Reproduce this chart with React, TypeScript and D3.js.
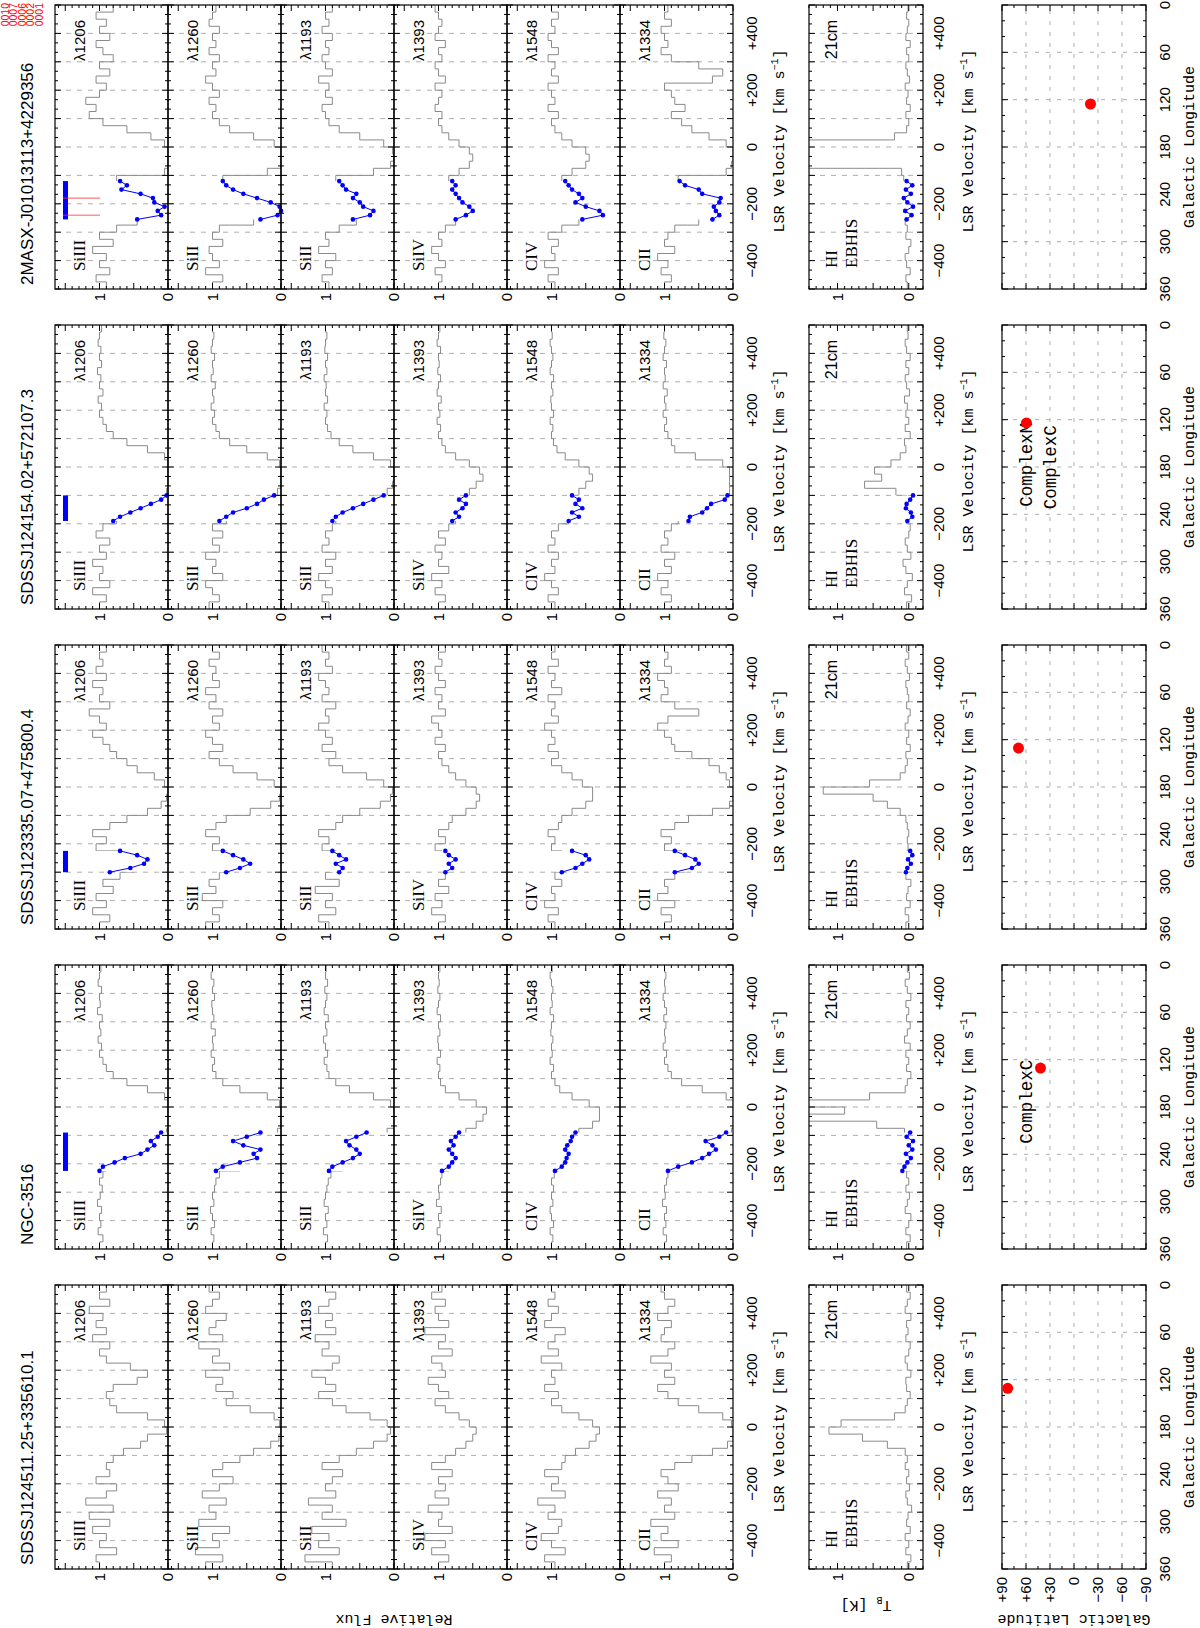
import React, { useEffect, useRef } from 'react';
import * as d3 from 'd3';

// sightlines, left to right in the landscape figure (the page shows it turned by -90 deg)
const titles = [
  'SDSSJ124511.25+335610.1',
  'NGC-3516',
  'SDSSJ123335.07+475800.4',
  'SDSSJ124154.02+572107.3',
  '2MASX-J01013113+4229356',
];
const ionNames = ['SiIII', 'SiII', 'SiII', 'SiIV', 'CIV', 'CII'];
const lineNames = ['λ1206', 'λ1260', 'λ1193', 'λ1393', 'λ1548', 'λ1334'];
const velTickValues = [-400, -200, 0, 200, 400];
const velTickLabels = ['−400', '−200', '0', '+200', '+400'];
const lonTickValues = [360, 300, 240, 180, 120, 60, 0];
const latTickValues = [90, 60, 30, 0, -30, -60, -90];
const latTickLabels = ['+90', '+60', '+30', '0', '−30', '−60', '−90'];
const stampLines = ['0010', '0007', '0006', '0002', '0001'];

// binned spectra: 25 km/s bins starting at -500 km/s
const binStart = -500;
const binWidth = 25;

// SDSSJ124511.25+335610.1
const s1_1206 = [1.0,1.05,0.75,1.0,0.9,1.1,0.85,1.15,0.8,1.2, 0.9,0.75,1.05,0.85,0.9,0.8,0.65,0.4,0.3,0.02, 0.05,0.3,0.75,0.85,0.9,0.8,0.45,0.3,0.55,0.9, 1.0,0.85,1.1,0.9,1.05,0.95,1.15,0.85,1.0,0.9];
const s1_1260 = [1.1,0.85,1.25,0.9,1.0,0.75,1.2,0.95,1.05,0.8, 1.15,0.9,0.7,1.0,0.85,0.6,0.4,0.15,0.03,0.0, 0.02,0.1,0.45,0.8,0.7,0.95,0.85,1.1,0.75,1.0, 0.9,1.2,0.85,1.05,0.95,0.8,1.1,1.0,0.9,1.05];
const s1_1193 = [0.9,1.3,0.8,1.1,0.95,1.2,0.7,1.05,0.9,1.25, 0.85,1.0,0.9,0.75,1.05,0.8,0.55,0.3,0.1,0.05, 0.1,0.35,0.7,0.9,1.1,0.85,1.0,1.2,0.9,0.8, 1.05,0.95,1.15,0.85,1.0,0.9,1.1,0.95,0.85,1.0];
const s1_1393 = [1.0,0.85,1.1,0.9,1.2,0.8,1.0,0.95,1.15,0.85, 1.05,0.9,1.0,0.8,1.1,0.9,0.75,0.6,0.5,0.45, 0.55,0.7,0.9,1.05,0.85,1.0,1.15,0.9,0.95,1.1, 0.8,1.0,0.9,1.2,0.85,1.0,1.05,0.9,1.1,0.95];
const s1_1548 = [0.95,1.1,0.8,1.0,1.15,0.9,0.85,1.05,0.95,1.2, 0.8,1.0,0.9,1.1,0.85,0.8,0.65,0.45,0.35,0.3, 0.4,0.6,0.85,1.0,0.9,1.1,0.95,1.0,0.85,1.15, 0.9,1.05,0.95,0.8,1.1,1.0,0.9,1.05,0.95,1.0];
const s1_1334 = [1.0,0.9,1.15,0.8,1.05,0.95,1.2,0.85,1.0,0.9, 1.1,0.8,0.95,1.05,0.85,0.6,0.3,0.08,0.0,0.0, 0.02,0.15,0.5,0.8,0.95,1.1,0.85,1.0,0.9,1.2, 0.95,0.85,1.05,1.0,0.9,1.1,0.95,0.85,1.0,1.05];

// NGC-3516
const s2_1206 = [1.0,0.95,1.02,0.98,1.0,0.97,1.03,0.99,0.96,1.0, 0.95,0.9,0.7,0.4,0.25,0.15,0.02,0.0,0.0,0.0, 0.0,0.05,0.3,0.6,0.8,0.9,0.95,1.0,0.97,1.02, 0.98,1.0,0.96,1.03,0.99,1.0,0.97,1.02,1.0,0.98];
const s2_1260 = [1.0,0.98,1.02,0.97,1.0,1.03,0.98,1.0,0.97,0.95, 0.9,0.6,0.35,0.5,0.7,0.4,0.05,0.0,0.0,0.0, 0.02,0.2,0.6,0.85,0.95,1.0,0.97,1.02,0.99,1.0, 0.96,1.02,0.98,1.0,1.01,0.97,1.0,0.98,1.02,1.0];
const s2_1193 = [1.0,0.97,1.03,0.98,1.0,0.96,1.02,1.0,0.98,0.96, 0.92,0.75,0.55,0.6,0.7,0.45,0.1,0.0,0.0,0.0, 0.05,0.3,0.65,0.85,0.95,0.98,1.02,0.97,1.0,1.03, 0.98,1.0,0.96,1.02,1.0,0.98,1.01,0.97,1.0,0.99];
const s2_1393 = [1.0,0.97,1.02,0.98,1.0,0.96,1.03,0.99,1.0,0.97, 0.95,0.85,0.8,0.82,0.85,0.8,0.6,0.45,0.35,0.3, 0.45,0.7,0.9,0.97,1.0,0.98,1.02,0.97,1.0,1.01, 0.98,1.0,0.97,1.02,1.0,0.98,1.01,0.99,1.0,0.98];
const s2_1548 = [1.0,0.98,1.02,0.97,1.0,1.02,0.98,1.0,0.97,1.0, 0.96,0.9,0.8,0.78,0.8,0.75,0.6,0.4,0.3,0.3, 0.45,0.7,0.88,0.95,1.0,0.97,1.02,0.99,1.0,0.98, 1.01,1.0,0.97,1.02,0.99,1.0,0.98,1.0,1.02,0.99];
const s2_1334 = [1.0,0.97,1.02,0.98,1.0,0.97,1.03,0.99,1.0,0.97, 0.95,0.8,0.55,0.3,0.35,0.25,0.02,0.0,0.0,0.0, 0.0,0.1,0.45,0.75,0.9,0.95,1.0,0.97,1.02,0.99, 1.0,0.98,1.01,0.97,1.0,1.02,0.99,1.0,0.98,1.0];

// SDSSJ123335.07+475800.4
const s3_1206 = [1.0,0.85,1.1,0.9,1.05,0.8,0.95,0.7,0.5,0.35, 0.7,1.05,0.9,1.1,0.85,0.6,0.3,0.1,0.02,0.0, 0.05,0.2,0.45,0.6,0.75,0.85,0.95,1.1,0.9,1.0, 1.15,0.85,1.0,0.95,1.1,0.9,1.05,0.95,1.0,0.9];
const s3_1260 = [1.1,0.9,1.0,0.85,1.15,0.95,1.05,0.9,0.75,0.55, 0.8,1.0,0.9,1.1,0.95,0.8,0.45,0.15,0.02,0.0, 0.1,0.35,0.7,0.9,1.05,0.85,1.0,1.1,0.9,1.0, 0.85,1.05,0.95,1.1,0.9,1.0,0.95,1.05,0.9,1.0];
const s3_1193 = [0.95,1.1,0.85,1.0,0.9,1.15,0.8,1.0,0.9,0.75, 0.85,1.05,0.95,1.1,0.85,0.75,0.5,0.2,0.05,0.02, 0.15,0.4,0.75,0.95,0.85,1.05,0.9,1.0,1.1,0.95, 1.0,0.85,1.05,0.95,1.0,1.1,0.9,1.0,0.95,1.05];
const s3_1393 = [1.0,0.9,1.1,0.95,1.05,0.85,1.0,0.9,0.85,0.9, 0.95,1.05,0.9,1.0,0.85,0.8,0.6,0.45,0.4,0.45, 0.6,0.75,0.85,0.95,1.0,0.9,1.05,0.95,1.0,1.1, 0.9,1.0,0.95,1.05,0.9,1.0,1.05,0.95,1.0,0.9];
const s3_1548 = [0.95,1.05,0.9,1.1,0.95,1.0,0.85,0.95,0.8,0.7, 0.85,1.0,0.95,1.05,0.9,0.85,0.7,0.5,0.4,0.4, 0.55,0.7,0.85,1.0,0.9,1.05,0.95,1.0,1.1,0.9, 1.0,0.95,1.05,0.85,1.0,0.95,1.05,0.9,1.0,0.95];
const s3_1334 = [1.0,0.9,1.05,0.85,1.1,0.95,1.0,0.85,0.7,0.5, 0.75,1.0,0.9,1.05,0.85,0.65,0.3,0.05,0.0,0.0, 0.05,0.1,0.2,0.35,0.6,0.85,0.9,1.0,1.1,0.95, 0.5,0.85,1.05,0.95,1.0,1.1,0.9,1.0,0.95,1.0];

// SDSSJ124154.02+572107.3
const s4_1206 = [1.0,0.9,1.1,0.85,1.0,0.95,1.1,0.9,1.0,0.85, 1.05,0.95,0.75,0.5,0.3,0.1,0.02,0.0,0.0,0.0, 0.0,0.05,0.3,0.6,0.8,0.9,0.95,1.0,0.97,1.02, 0.95,1.0,0.98,1.03,0.97,1.0,0.98,1.02,1.0,0.97];
const s4_1260 = [1.05,0.9,1.0,1.1,0.85,1.0,0.95,1.1,0.9,1.0, 0.85,1.0,0.8,0.6,0.4,0.2,0.05,0.0,0.0,0.0, 0.02,0.2,0.5,0.75,0.9,0.95,1.0,0.97,1.02,0.98, 1.0,0.96,1.02,0.99,1.0,0.97,1.02,1.0,0.98,1.0];
const s4_1193 = [0.95,1.05,0.9,1.0,1.1,0.9,1.0,0.85,1.05,0.95, 1.0,0.9,0.85,0.7,0.5,0.3,0.1,0.02,0.0,0.0, 0.05,0.3,0.6,0.8,0.92,0.97,1.0,0.98,1.02,0.97, 1.0,0.99,1.02,0.98,1.0,0.97,1.01,1.0,0.98,1.0];
const s4_1393 = [1.0,0.9,1.05,0.95,1.1,0.85,1.0,0.95,1.05,0.9, 1.0,0.85,0.75,0.7,0.65,0.6,0.55,0.45,0.35,0.4, 0.55,0.75,0.9,0.95,1.0,0.97,1.02,0.98,1.0,0.96, 1.02,1.0,0.97,1.01,0.99,1.0,0.97,1.02,1.0,0.98];
const s4_1548 = [0.95,1.05,0.9,1.0,1.1,0.95,1.0,0.9,1.05,0.95, 1.0,0.9,0.75,0.7,0.6,0.65,0.6,0.5,0.4,0.45, 0.6,0.8,0.92,0.97,1.0,0.98,1.02,0.97,1.0,1.01, 0.98,1.0,0.97,1.02,1.0,0.98,1.0,1.02,0.99,1.0];
const s4_1334 = [1.0,0.9,1.05,0.95,1.1,0.9,1.0,0.85,1.05,0.95, 1.0,0.9,0.8,0.6,0.45,0.2,0.05,0.05,0.05,0.05, 0.15,0.55,0.85,0.9,0.95,1.0,0.97,1.02,0.98,1.0, 0.96,1.02,0.99,1.0,0.97,1.02,1.0,0.98,1.01,1.0];

// 2MASX-J01013113+4229356
const s5_1206 = [0.9,1.05,0.85,1.0,0.9,1.1,0.8,1.0,0.75,0.45, 0.1,0.15,0.3,0.55,0.6,0.75,0.05,0.0,0.0,0.0, 0.05,0.25,0.6,0.95,1.15,1.05,1.2,1.0,0.9,1.05, 0.85,1.0,0.8,0.95,1.05,0.85,1.0,0.9,1.05,0.8];
const s5_1260 = [1.0,0.85,1.1,0.9,1.0,1.05,0.85,1.0,0.9,0.4, 0.05,0.0,0.2,0.5,0.75,0.85,0.2,0.0,0.0,0.0, 0.1,0.4,0.75,0.9,1.0,0.95,1.05,0.9,1.0,1.1, 0.95,1.0,0.9,1.05,0.95,1.0,0.9,1.05,1.0,0.95];
const s5_1193 = [0.95,1.05,0.9,1.0,0.85,1.1,0.95,1.0,0.8,0.55, 0.3,0.35,0.45,0.55,0.75,0.85,0.3,0.05,0.0,0.02, 0.15,0.5,0.8,0.95,1.0,1.05,0.9,1.0,0.95,1.1, 0.9,1.0,1.05,0.95,1.0,0.9,1.05,0.95,1.0,0.9];
const s5_1393 = [1.0,0.95,1.05,0.9,1.0,1.1,0.95,1.0,0.9,0.75, 0.6,0.55,0.6,0.7,0.8,0.85,0.7,0.55,0.5,0.55, 0.7,0.85,0.95,1.0,0.95,1.05,1.0,0.95,1.05,0.9, 1.0,1.05,0.95,1.0,0.9,1.05,1.0,0.95,1.0,1.05];
const s5_1548 = [0.95,1.05,0.9,1.1,0.95,1.0,0.9,1.05,0.85,0.6, 0.3,0.45,0.55,0.6,0.75,0.85,0.7,0.5,0.45,0.5, 0.7,0.85,0.95,1.0,0.9,1.05,0.95,1.0,1.05,0.9, 1.0,0.95,1.05,0.9,1.0,1.05,0.95,1.0,0.9,1.0];
const s5_1334 = [1.0,0.9,1.05,0.95,1.1,0.85,1.0,0.95,0.85,0.5, 0.2,0.25,0.2,0.45,0.55,0.8,0.1,0.02,0.0,0.0, 0.1,0.35,0.6,0.75,0.9,0.7,0.85,0.9,1.0,0.3, 0.15,0.5,0.9,1.05,0.95,1.0,1.05,0.9,1.0,0.95];

// high-velocity absorption: points every 15 km/s from hvcStart
const hvcStart = [null, -225, -300, -190, -255];
const hvcStep = 15;
const b2_1206 = [1.0,0.95,0.78,0.63,0.4,0.3,0.2,0.25,0.15,0.1];
const b2_1260 = [0.95,0.85,0.6,0.35,0.4,0.3,0.55,0.7,0.5,0.3];
const b2_1193 = [0.95,0.9,0.75,0.6,0.5,0.55,0.65,0.7,0.55,0.4];
const b2_1393 = [0.95,0.85,0.8,0.75,0.8,0.85,0.78,0.82,0.75,0.7];
const b2_1548 = [0.95,0.85,0.8,0.78,0.75,0.8,0.77,0.72,0.7,0.65];
const b2_1334 = [0.95,0.8,0.6,0.45,0.35,0.25,0.3,0.4,0.2,0.1];
const b3_1206 = [0.85,0.55,0.35,0.3,0.45,0.7];
const b3_1260 = [0.8,0.6,0.45,0.55,0.7,0.85];
const b3_1193 = [0.8,0.75,0.85,0.7,0.8,0.9];
const b3_1393 = [0.9,0.8,0.85,0.75,0.85,0.9];
const b3_1548 = [0.85,0.65,0.55,0.45,0.5,0.7];
const b3_1334 = [0.85,0.6,0.5,0.55,0.7,0.85];
const b4_1206 = [0.8,0.7,0.55,0.4,0.25,0.1,0.02];
const b4_1260 = [0.9,0.8,0.7,0.5,0.35,0.25,0.1];
const b4_1193 = [0.9,0.85,0.75,0.6,0.45,0.3,0.15];
const b4_1393 = [0.8,0.7,0.75,0.65,0.6,0.7,0.6];
const b4_1548 = [0.75,0.6,0.7,0.55,0.65,0.6,0.7];
const b4_1334 = [0.65,0.63,0.45,0.38,0.32,0.12,0.08];
const b5_1206 = [0.45,0.1,0.15,0.05,0.2,0.22,0.4,0.68,0.6,0.7];
const b5_1260 = [0.3,0.05,0.0,0.02,0.15,0.35,0.55,0.7,0.8,0.85];
const b5_1193 = [0.6,0.35,0.3,0.45,0.5,0.6,0.55,0.7,0.75,0.8];
const b5_1393 = [0.75,0.6,0.5,0.55,0.65,0.7,0.75,0.8,0.75,0.8];
const b5_1548 = [0.55,0.25,0.3,0.5,0.65,0.55,0.6,0.7,0.75,0.8];
const b5_1334 = [0.3,0.2,0.25,0.28,0.2,0.18,0.45,0.5,0.7,0.78];

// HI 21cm (EBHIS) brightness temperature, same 25 km/s bins
const hi1 = [0.02,-0.03,0.04,0.0,0.05,-0.02,0.03,0.01,-0.04,0.02, 0.04,-0.01,0.03,0.0,0.05,0.02,0.05,0.3,0.65,1.12, 0.95,0.2,0.05,0.02,-0.02,0.03,0.04,-0.03,0.02,0.05, 0.0,-0.02,0.04,0.01,0.03,-0.03,0.05,0.02,-0.02,0.03];
const hi2 = [0.03,-0.02,0.04,0.0,-0.03,0.05,0.02,-0.01,0.04,0.0, 0.03,-0.02,0.05,0.04,0.06,0.05,0.06,0.45,1.6,0.9, 1.6,0.55,0.05,0.02,-0.03,0.03,0.0,0.04,-0.02,0.06, 0.02,-0.02,0.03,0.0,0.04,-0.03,0.02,0.05,-0.01,0.02];
const hi3 = [0.04,0.0,0.05,-0.02,0.03,0.01,-0.03,0.04,0.02,0.0, 0.03,0.01,0.02,0.0,0.02,0.04,0.12,0.3,0.5,1.2, 0.55,0.12,0.05,0.02,0.04,-0.02,0.03,0.0,0.05,0.01, -0.02,0.03,0.0,0.02,0.04,-0.01,0.02,0.05,0.0,0.03];
const hi4 = [0.03,-0.04,0.06,0.02,-0.05,0.04,0.08,-0.03,0.02,0.05, 0.0,-0.02,0.03,0.01,0.0,0.03,0.18,0.62,0.38,0.48, 0.25,0.12,0.04,0.06,-0.02,0.05,0.0,0.04,0.02,0.06, -0.01,0.03,0.05,0.0,0.04,-0.02,0.03,0.05,0.01,0.02];
const hi5 = [0.02,0.04,-0.02,0.03,0.05,0.0,-0.03,0.04,0.02,0.05, 0.0,0.03,0.04,0.05,0.06,0.07,0.1,1.6,1.6,1.6, 1.6,0.2,0.03,0.0,0.04,-0.02,0.03,0.01,0.05,-0.01, 0.02,0.04,0.0,0.03,-0.02,0.04,0.02,0.0,0.03,0.01];
const bhi2 = [0.09,0.06,0.02,-0.03,0.04,-0.05,0.0,-0.06,0.03,-0.02];
const bhi3 = [0.04,0.02,-0.03,0.01,-0.05,-0.02];
const bhi4 = [0.02,-0.05,-0.03,0.04,0.03,-0.02,-0.06];
const bhi5 = [0.03,-0.04,0.05,-0.06,0.02,0.07,-0.03,0.04,-0.05,0.03];

// galactic position of each sightline
const glon = [131.0, 130.6, 130.6, 124.2, 125.5];
const glat = [82.8, 41.9, 69.4, 59.4, -20.6];
const complexCol = [1, 3, 3];
const complexText = ['ComplexC', 'ComplexM', 'ComplexC'];
const complexLon = [120, 124, 127];
const complexLat = [53, 53, 23];
// red velocity marks in the 2MASX SiIII panel
const redMarks = [-240, -180];

const spectra = [
  [s1_1206, s1_1260, s1_1193, s1_1393, s1_1548, s1_1334],
  [s2_1206, s2_1260, s2_1193, s2_1393, s2_1548, s2_1334],
  [s3_1206, s3_1260, s3_1193, s3_1393, s3_1548, s3_1334],
  [s4_1206, s4_1260, s4_1193, s4_1393, s4_1548, s4_1334],
  [s5_1206, s5_1260, s5_1193, s5_1393, s5_1548, s5_1334],
];
const blues = [
  null,
  [b2_1206, b2_1260, b2_1193, b2_1393, b2_1548, b2_1334],
  [b3_1206, b3_1260, b3_1193, b3_1393, b3_1548, b3_1334],
  [b4_1206, b4_1260, b4_1193, b4_1393, b4_1548, b4_1334],
  [b5_1206, b5_1260, b5_1193, b5_1393, b5_1548, b5_1334],
];
const hiSpectra = [hi1, hi2, hi3, hi4, hi5];
const hiBlues = [null, bhi2, bhi3, bhi4, bhi5];

const SANS = "'Liberation Sans', Arial, Helvetica, sans-serif";
const SERIF = "'Liberation Serif', 'Times New Roman', serif";
const MONO = "'Liberation Mono', 'Courier New', monospace";
const GREY = '#8a8a8a';
const BLUE = '#0000ff';

// landscape layout (page is 1200 x 1628, figure drawn 1628 x 1200 then turned)
const SPEC_TOP = 55;
const SPEC_H = 113;
const HI_TOP = 809;
const HI_BOT = 923;
const MAP_TOP = 1002;
const MAP_BOT = 1146;
const HALF = 142;

function tickPath(x0, x1, y0, y1, hs, vs) {
  let d = '';
  hs.forEach((t) => {
    const l = t.major ? 6 : 3;
    d += `M${t.p},${y0}v${l}M${t.p},${y1}v${-l}`;
  });
  vs.forEach((t) => {
    const l = t.major ? 6 : 3;
    d += `M${x0},${t.p}h${l}M${x1},${t.p}h${-l}`;
  });
  return d;
}

function draw(el) {
  const svg = d3.select(el);
  svg.selectAll('*').remove();
  svg.append('rect').attr('width', 1200).attr('height', 1628).attr('fill', '#fff');
  const defs = svg.append('defs');
  const root = svg.append('g').attr('transform', 'translate(0,1628) rotate(-90)');

  const text = (g, x, y, s, size, family, anchor = 'start') =>
    g.append('text')
      .attr('x', x).attr('y', y)
      .attr('font-size', size)
      .attr('font-family', family)
      .attr('text-anchor', anchor)
      .attr('fill', '#000')
      .text(s);

  // red stamp, top right corner
  stampLines.forEach((s, i) => {
    text(root, 1625, 9 + 8.4 * i, s, 10.5, SANS, 'end').attr('fill', '#ff0000');
  });

  titles.forEach((title, k) => {
    const uc = 201 + 320 * k;
    const left = uc - HALF;
    const right = uc + HALF;
    const xv = d3.scaleLinear().domain([-500, 500]).range([left, right]);
    const g = root.append('g');

    const velTicks = d3.range(0, 31).map((i) => ({ p: xv(-500 + (i * 100) / 3), major: i % 3 === 0 }));
    const wmin = hvcStart[k];
    const nBlue = blues[k] ? blues[k][0].length : 0;
    const wmax = wmin === null ? null : wmin + hvcStep * (nBlue - 1);

    text(g, left + 4, 33, title, 17, SANS);

    const stepLine = (ys) =>
      d3.line().x((d) => xv(d[0])).y((d) => ys(d[1])).curve(d3.curveStepAfter);
    const binPoints = (vals) => {
      const pts = vals.map((f, i) => [binStart + i * binWidth, f]);
      pts.push([binStart + vals.length * binWidth, vals[vals.length - 1]]);
      return pts;
    };
    const makeClip = (id, top, h) => {
      const cp = defs.append('clipPath').attr('id', id);
      if (wmin === null) {
        cp.append('rect').attr('x', left).attr('y', top).attr('width', right - left).attr('height', h);
      } else {
        cp.append('rect').attr('x', left).attr('y', top).attr('width', xv(wmin) - left).attr('height', h);
        cp.append('rect').attr('x', xv(wmax)).attr('y', top).attr('width', right - xv(wmax)).attr('height', h);
      }
    };

    // ---- absorption-line panels
    ionNames.forEach((ion, r) => {
      const top = SPEC_TOP + SPEC_H * r;
      const bottom = top + SPEC_H;
      const yf = d3.scaleLinear().domain([0, 1.65]).range([bottom, top]);
      const p = g.append('g');

      d3.range(-400, 401, 100).forEach((v) => {
        p.append('line')
          .attr('x1', xv(v)).attr('x2', xv(v)).attr('y1', top).attr('y2', bottom)
          .attr('stroke', '#999').attr('stroke-width', 0.8).attr('stroke-dasharray', '5,6');
      });

      const cid = `clip-${k}-${r}`;
      makeClip(cid, top, SPEC_H);
      p.append('path')
        .attr('d', stepLine(yf)(binPoints(spectra[k][r])))
        .attr('fill', 'none').attr('stroke', GREY).attr('stroke-width', 1)
        .attr('clip-path', `url(#${cid})`);

      if (blues[k]) {
        const pts = blues[k][r].map((f, j) => [wmin + hvcStep * j, f]);
        p.append('path')
          .attr('d', d3.line().x((d) => xv(d[0])).y((d) => yf(d[1]))(pts))
          .attr('fill', 'none').attr('stroke', BLUE).attr('stroke-width', 1);
        p.selectAll(null).data(pts).enter().append('circle')
          .attr('cx', (d) => xv(d[0])).attr('cy', (d) => yf(d[1])).attr('r', 2.3)
          .attr('fill', BLUE);
        if (r === 0) {
          p.append('line')
            .attr('x1', xv(wmin)).attr('x2', xv(wmax)).attr('y1', top + 10.5).attr('y2', top + 10.5)
            .attr('stroke', BLUE).attr('stroke-width', 5);
        }
      }
      if (k === 4 && r === 0) {
        redMarks.forEach((v) => {
          p.append('line')
            .attr('x1', xv(v)).attr('x2', xv(v)).attr('y1', top + 8).attr('y2', top + 45)
            .attr('stroke', '#ff3030').attr('stroke-width', 0.8);
        });
      }

      p.append('rect')
        .attr('x', left).attr('y', top).attr('width', right - left).attr('height', SPEC_H)
        .attr('fill', 'none').attr('stroke', '#000').attr('stroke-width', 1.2);
      const fluxTicks = d3.range(0, 17).map((i) => ({ p: yf(i / 10), major: i % 5 === 0 }));
      p.append('path')
        .attr('d', tickPath(left, right, top, bottom, velTicks, fluxTicks))
        .attr('stroke', '#000').attr('stroke-width', 1).attr('fill', 'none');

      text(p, left + 18, top + 30, ion, 17, SERIF);
      text(p, right - 15, top + 30, lineNames[r], 15, SANS, 'end');
      text(p, left - 4, yf(1) + 5, '1', 15, SANS, 'end');
      text(p, left - 4, yf(0) + 5, '0', 15, SANS, 'end');
    });

    const specBottom = SPEC_TOP + SPEC_H * 6;
    velTickValues.forEach((v, i) => text(g, xv(v), specBottom + 24, velTickLabels[i], 15, SANS, 'middle'));
    const vlab = text(g, uc + 6, specBottom + 51, 'LSR Velocity [km s', 15, MONO, 'middle');
    vlab.append('tspan').attr('dy', -6).attr('font-size', 10).text('−1');
    vlab.append('tspan').attr('dy', 6).text(']');

    // ---- HI 21cm panel
    const yt = d3.scaleLinear().domain([-0.2, 1.4]).range([HI_BOT, HI_TOP]);
    const h = g.append('g');
    d3.range(-400, 401, 100).forEach((v) => {
      h.append('line')
        .attr('x1', xv(v)).attr('x2', xv(v)).attr('y1', HI_TOP).attr('y2', HI_BOT)
        .attr('stroke', '#999').attr('stroke-width', 0.8).attr('stroke-dasharray', '5,6');
    });
    const hid = `clip-hi-${k}`;
    makeClip(hid, HI_TOP, HI_BOT - HI_TOP);
    h.append('path')
      .attr('d', stepLine(yt)(binPoints(hiSpectra[k])))
      .attr('fill', 'none').attr('stroke', GREY).attr('stroke-width', 1)
      .attr('clip-path', `url(#${hid})`);
    if (hiBlues[k]) {
      const pts = hiBlues[k].map((f, j) => [wmin + hvcStep * j, f]);
      h.append('path')
        .attr('d', d3.line().x((d) => xv(d[0])).y((d) => yt(d[1]))(pts))
        .attr('fill', 'none').attr('stroke', BLUE).attr('stroke-width', 1);
      h.selectAll(null).data(pts).enter().append('circle')
        .attr('cx', (d) => xv(d[0])).attr('cy', (d) => yt(d[1])).attr('r', 2.3)
        .attr('fill', BLUE);
    }
    h.append('rect')
      .attr('x', left).attr('y', HI_TOP).attr('width', right - left).attr('height', HI_BOT - HI_TOP)
      .attr('fill', 'none').attr('stroke', '#000').attr('stroke-width', 1.2);
    const tbTicks = d3.range(-2, 15).map((i) => ({ p: yt(i / 10), major: i % 5 === 0 }));
    h.append('path')
      .attr('d', tickPath(left, right, HI_TOP, HI_BOT, velTicks, tbTicks))
      .attr('stroke', '#000').attr('stroke-width', 1).attr('fill', 'none');
    text(h, left + 21, HI_TOP + 28, 'HI', 17, SERIF);
    text(h, left + 21, HI_TOP + 48, 'EBHIS', 17, SERIF);
    text(h, right - 15, HI_TOP + 28, '21cm', 16, SANS, 'end');
    text(h, left - 4, yt(1) + 5, '1', 15, SANS, 'end');
    text(h, left - 4, yt(0) + 5, '0', 15, SANS, 'end');
    velTickValues.forEach((v, i) => text(g, xv(v), HI_BOT + 21, velTickLabels[i], 15, SANS, 'middle'));
    const vlab2 = text(g, uc + 6, HI_BOT + 50, 'LSR Velocity [km s', 15, MONO, 'middle');
    vlab2.append('tspan').attr('dy', -6).attr('font-size', 10).text('−1');
    vlab2.append('tspan').attr('dy', 6).text(']');

    // ---- position map
    const xl = d3.scaleLinear().domain([360, 0]).range([left, right]);
    const yb = d3.scaleLinear().domain([-90, 90]).range([MAP_BOT, MAP_TOP]);
    const m = g.append('g');
    d3.range(60, 301, 60).forEach((lon) => {
      m.append('line')
        .attr('x1', xl(lon)).attr('x2', xl(lon)).attr('y1', MAP_TOP).attr('y2', MAP_BOT)
        .attr('stroke', '#999').attr('stroke-width', 0.8).attr('stroke-dasharray', '4,7');
    });
    d3.range(-60, 61, 30).forEach((lat) => {
      m.append('line')
        .attr('x1', left).attr('x2', right).attr('y1', yb(lat)).attr('y2', yb(lat))
        .attr('stroke', '#999').attr('stroke-width', 0.8).attr('stroke-dasharray', '4,7');
    });
    m.append('rect')
      .attr('x', left).attr('y', MAP_TOP).attr('width', right - left).attr('height', MAP_BOT - MAP_TOP)
      .attr('fill', 'none').attr('stroke', '#000').attr('stroke-width', 1.2);
    const lonTicks = d3.range(0, 19).map((i) => ({ p: xl(i * 20), major: i % 3 === 0 }));
    const latTicks = d3.range(-6, 7).map((i) => ({ p: yb(i * 15), major: i % 2 === 0 }));
    m.append('path')
      .attr('d', tickPath(left, right, MAP_TOP, MAP_BOT, lonTicks, latTicks))
      .attr('stroke', '#000').attr('stroke-width', 1).attr('fill', 'none');
    complexText.forEach((s, i) => {
      if (complexCol[i] === k) text(m, xl(complexLon[i]), yb(complexLat[i]), s, 17.5, MONO, 'end');
    });
    m.append('circle')
      .attr('cx', xl(glon[k])).attr('cy', yb(glat[k])).attr('r', 5.5)
      .attr('fill', '#ff0000');
    lonTickValues.forEach((lon) => text(g, xl(lon), MAP_BOT + 24, String(lon), 15, SANS, 'middle'));
    text(g, uc, MAP_BOT + 48, 'Galactic Longitude', 15, MONO, 'middle');

    if (k === 0) {
      latTickValues.forEach((lat, i) => text(g, left - 8, yb(lat) + 5, latTickLabels[i], 15, SANS, 'end'));
      text(g, 0, 0, 'Relative Flux', 15, MONO, 'middle')
        .attr('transform', `translate(13,${SPEC_TOP + SPEC_H * 3}) rotate(-90)`);
      const tb = text(g, 0, 0, 'T', 15, MONO, 'middle')
        .attr('transform', `translate(27,${(HI_TOP + HI_BOT) / 2}) rotate(-90)`);
      tb.append('tspan').attr('dy', 4).attr('font-size', 10).text('B');
      tb.append('tspan').attr('dy', -4).text(' [K]');
      text(g, 0, 0, 'Galactic Latitude', 15, MONO, 'middle')
        .attr('transform', `translate(13,${(MAP_TOP + MAP_BOT) / 2}) rotate(-90)`);
    }
  });
}

export default function App() {
  const ref = useRef(null);
  useEffect(() => {
    draw(ref.current);
  }, []);
  return (
    <svg
      ref={ref}
      width={1200}
      height={1628}
      style={{ position: 'absolute', left: 0, top: 0, display: 'block', background: '#fff' }}
    />
  );
}
